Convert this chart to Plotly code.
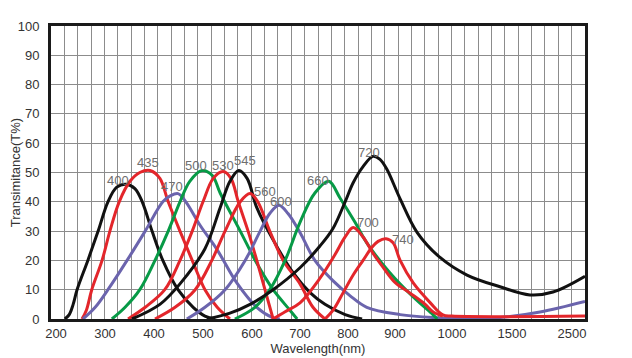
import numpy as np
import plotly.graph_objects as go

# ---- axis tick labels (non-uniform wavelength axis) ----
TICK_NM = [200, 300, 400, 500, 600, 700, 800, 900, 1000, 1500, 2500]
TICK_TEXT = [str(v) for v in TICK_NM]
# axis anchor positions (axis units) for the wavelength scale
AXIS_NM = [190, 200, 300, 400, 500, 600, 700, 800, 900, 1000, 1500, 2500, 2717]
AXIS_POS = [0, 5, 54, 103, 152, 201, 249, 297, 344, 401, 461, 521, 534]

# ---- curves: wavelength (nm) and transmittance (%) ----
f400_nm = [218, 227, 235, 243, 265, 286, 306, 324, 343, 361, 376, 396, 418, 449, 480, 504, 525]
f400_t  = [0, 1.5, 5, 10, 20, 30, 40, 45, 46, 44.5, 40, 30, 20, 10, 4, 1, 0]

f435_nm = [253, 262, 273, 294, 310, 329, 351, 371, 392, 412, 429, 453, 478, 504, 529, 555]
f435_t  = [0, 3, 10, 20, 30, 40, 47, 50, 50.7, 48, 40, 30, 20, 10, 4, 0]

f470_nm = [255, 280, 306, 345, 382, 418, 433, 449, 465, 494, 529, 569, 610, 643, 658]
f470_t  = [0, 4, 10, 20, 30, 40, 42, 42.8, 40, 32, 23.6, 12.3, 4, 0.5, 0]

f500_nm = [314, 341, 371, 402, 429, 453, 473, 498, 519, 535, 576, 610, 644, 679, 694]
f500_t  = [0, 4, 10, 20, 30, 40, 47, 50.7, 49, 43, 30, 19, 10, 3, 0]

f530_nm = [347, 382, 422, 453, 478, 500, 521, 541, 557, 572, 592, 610, 627, 644]
f530_t  = [0, 4, 10, 20, 30, 40, 48, 50.3, 48, 40, 30, 20, 10, 0]

f545_nm = [355, 412, 453, 504, 535, 555, 573, 590, 610, 644, 686, 721, 752, 794, 830]
f545_t  = [0, 5, 12, 24, 38, 47, 50.7, 48, 38, 27, 15.7, 9, 5, 1.5, 0]

f560_nm = [402, 443, 484, 518, 545, 576, 596, 612, 637, 665, 700, 727, 752]
f560_t  = [0, 4, 10, 20, 30, 40, 42.8, 40, 30, 20, 12, 4, 0]

f600_nm = [467, 504, 545, 586, 617, 637, 656, 675, 700, 731, 769, 804, 840, 909, 967, 1150, 1400, 1967, 2717]
f600_t  = [0, 4, 10, 20, 30, 36, 38.8, 36, 29.5, 20, 13, 8, 4, 1.5, 0.5, 0.2, 0.5, 2.4, 6.0]

f660_nm = [565, 606, 637, 669, 700, 731, 760, 783, 815, 840, 889, 932, 967, 974]
f660_t  = [0, 4, 10, 20, 33, 43, 47, 41.4, 33, 26, 15.8, 7.5, 1.4, 0]

f700_nm = [644, 669, 700, 742, 773, 794, 811, 832, 853, 874, 900, 926, 953, 967, 984]
f700_t  = [0, 2.5, 5.5, 14, 22, 28, 31.2, 28, 22.5, 17.8, 12.5, 8.9, 5, 2.4, 1]

f720_nm = [508, 555, 596, 644, 700, 742, 769, 794, 811, 832, 853, 868, 883, 909, 939, 979, 1125, 1400, 1800, 2183, 2717]
f720_t  = [0, 2, 5, 10, 17.5, 25, 31, 40, 46.5, 52, 55.5, 54.5, 51, 41, 29.5, 21, 15, 11, 8.2, 9.2, 14.6]

f740_nm = [752, 769, 790, 811, 832, 851, 864, 881, 896, 909, 932, 962, 984, 1000, 2717]
f740_t  = [0, 3, 9, 15, 20, 24.5, 26.5, 27.4, 26, 20, 12.3, 5.5, 1.4, 1.0, 1.0]

SERIES = [
    ("400", f400_nm, f400_t, "#111111"),
    ("435", f435_nm, f435_t, "#e3262b"),
    ("470", f470_nm, f470_t, "#6b64ad"),
    ("500", f500_nm, f500_t, "#079a46"),
    ("530", f530_nm, f530_t, "#e3262b"),
    ("545", f545_nm, f545_t, "#111111"),
    ("560", f560_nm, f560_t, "#e3262b"),
    ("600", f600_nm, f600_t, "#6b64ad"),
    ("660", f660_nm, f660_t, "#079a46"),
    ("700", f700_nm, f700_t, "#e3262b"),
    ("720", f720_nm, f720_t, "#111111"),
    ("740", f740_nm, f740_t, "#e3262b"),
]

# curve label anchors (nm, T%)
LABEL_NM = [327, 388, 437, 486, 541, 586, 627, 660, 737, 845, 843, 914]
LABEL_T  = [47.3, 53.4, 45.2, 52.4, 52.4, 54.1, 43.5, 40.1, 47.3, 56.8, 32.9, 27.1]
LABEL_TEXT = ["400", "435", "470", "500", "530", "545", "560", "600", "660", "720", "700", "740"]


def to_axis(nm):
    return np.interp(np.asarray(nm, dtype=float), AXIS_NM, AXIS_POS)


fig = go.Figure()
for name, xs, ys, col in SERIES:
    fig.add_trace(go.Scatter(
        x=to_axis(xs), y=ys, mode="lines", name=name,
        line=dict(color=col, width=3, shape="spline", smoothing=1.0),
        hoverinfo="skip", showlegend=False,
    ))

for lx, ly, lt in zip(LABEL_NM, LABEL_T, LABEL_TEXT):
    fig.add_annotation(x=float(to_axis([lx])[0]), y=ly, text=lt, showarrow=False,
                       font=dict(family="Liberation Sans, Arial", size=13, color="#6f6f6f"))

font_main = dict(family="Liberation Sans, Arial", size=13, color="#333333")

# the page body adds an 8px offset at top/left, so the figure is 8px smaller
fig.update_layout(
    width=624, height=350,
    margin=dict(l=43, r=47, t=18, b=39),
    paper_bgcolor="white", plot_bgcolor="white",
    font=font_main,
    xaxis=dict(
        range=[0, 534], tickmode="array", automargin=False,
        tickvals=list(to_axis(TICK_NM)), ticktext=TICK_TEXT,
        showgrid=False, zeroline=False, ticks="",
        showline=True, linecolor="#1a1a1a", linewidth=3, mirror=True,
        tickfont=font_main,
        minor=dict(tick0=0, dtick=534 / 40, showgrid=True, gridcolor="#8c8c8c", gridwidth=1, ticks=""),
        title=dict(text="Wavelength(nm)", font=font_main, standoff=0),
    ),
    yaxis=dict(
        range=[0, 100], tick0=0, dtick=10, automargin=False,
        showgrid=True, gridcolor="#8c8c8c", gridwidth=1, zeroline=False, ticks="",
        showline=True, linecolor="#1a1a1a", linewidth=3, mirror=True,
        tickfont=font_main, ticklabelstandoff=6,
        title=dict(text="Transimitance(T%)", font=font_main, standoff=4),
    ),
)

fig.write_html("out.html")
